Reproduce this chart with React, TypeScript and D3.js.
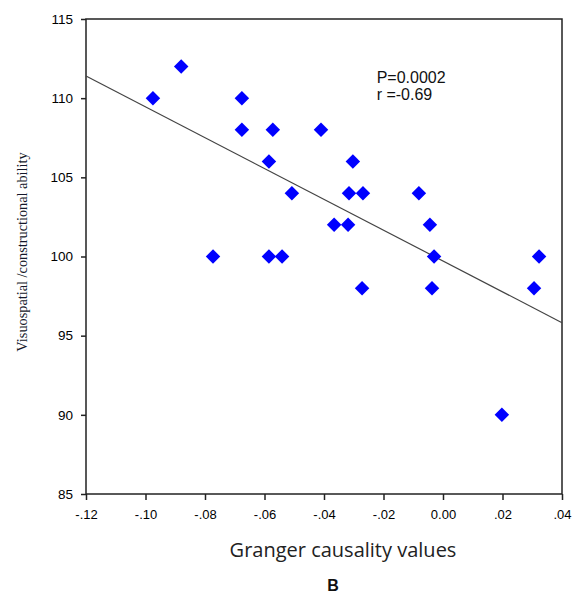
import React, { useRef, useEffect } from "react";
import * as d3 from "d3";

// Granger causality values (x) vs visuospatial/constructional ability (y)
const grangerValues = [
  -0.0975, -0.088, -0.0676, -0.0676, -0.0572, -0.0585, -0.0508, -0.0773,
  -0.0585, -0.0541, -0.041, -0.0303, -0.0316, -0.0269, -0.0366, -0.0319,
  -0.0272, -0.0081, -0.0044, -0.003, -0.0037, 0.0198, 0.0323, 0.0306,
];
const abilityScores = [
  110, 112, 110, 108, 108, 106, 104, 100,
  100, 100, 108, 106, 104, 104, 102, 102,
  98, 104, 102, 100, 98, 90, 100, 98,
];

const xTicks = [-0.12, -0.1, -0.08, -0.06, -0.04, -0.02, 0, 0.02, 0.04];
const xTickLabels = ["-.12", "-.10", "-.08", "-.06", "-.04", "-.02", "0.00", ".02", ".04"];
const yTicks = [85, 90, 95, 100, 105, 110, 115];

// fitted regression line, read at the two ends of the x range
const fitLine = [
  { x: -0.12, y: 111.4 },
  { x: 0.04, y: 95.82 },
];

const statsText = ["P=0.0002", "r =-0.69"];

const App = () => {
  const svgRef = useRef<SVGSVGElement>(null);

  useEffect(() => {
    const width = 572;
    const height = 593;
    const margin = { top: 19, right: 10, bottom: 99, left: 86 };

    const svg = d3.select(svgRef.current);
    svg.selectAll("*").remove();

    const xScale = d3
      .scaleLinear()
      .domain([-0.12, 0.04])
      .range([margin.left, width - margin.right]);

    const yScale = d3
      .scaleLinear()
      .domain([85, 115])
      .range([height - margin.bottom, margin.top]);

    const data = grangerValues.map((x, i) => ({ x, y: abilityScores[i] }));

    // frame
    svg
      .append("rect")
      .attr("x", xScale(-0.12))
      .attr("y", yScale(115))
      .attr("width", xScale(0.04) - xScale(-0.12))
      .attr("height", yScale(85) - yScale(115))
      .attr("fill", "none")
      .attr("stroke", "#222")
      .attr("stroke-width", 1.5);

    // X axis
    svg
      .append("g")
      .attr("transform", `translate(0,${yScale(85)})`)
      .call(
        d3
          .axisBottom(xScale)
          .tickValues(xTicks)
          .tickSize(6)
          .tickPadding(10)
          .tickFormat((d, i) => xTickLabels[i])
      )
      .call((g) => g.select(".domain").remove())
      .call((g) => g.selectAll("line").attr("stroke", "#222").attr("stroke-width", 1.5))
      .call((g) =>
        g
          .selectAll("text")
          .attr("fill", "#000")
          .style("font-family", "Arial, 'Liberation Sans', sans-serif")
          .style("font-size", "13px")
      );

    // Y axis
    svg
      .append("g")
      .attr("transform", `translate(${xScale(-0.12)},0)`)
      .call(d3.axisLeft(yScale).tickValues(yTicks).tickSize(5).tickPadding(8))
      .call((g) => g.select(".domain").remove())
      .call((g) => g.selectAll("line").attr("stroke", "#222").attr("stroke-width", 1.5))
      .call((g) =>
        g
          .selectAll("text")
          .attr("fill", "#000")
          .style("font-family", "Arial, 'Liberation Sans', sans-serif")
          .style("font-size", "13.5px")
      );

    // regression line
    const line = d3
      .line<{ x: number; y: number }>()
      .x((d) => xScale(d.x))
      .y((d) => yScale(d.y));

    svg
      .append("path")
      .datum(fitLine)
      .attr("fill", "none")
      .attr("stroke", "#444")
      .attr("stroke-width", 1.2)
      .attr("d", line);

    // diamonds
    const diamond = d3.symbol().type(d3.symbolSquare).size(105);
    svg
      .append("g")
      .selectAll("path")
      .data(data)
      .join("path")
      .attr("d", diamond)
      .attr("transform", (d) => `translate(${xScale(d.x)},${yScale(d.y)}) rotate(45)`)
      .attr("fill", "#0000ff");

    // stats text
    svg
      .append("g")
      .selectAll("text")
      .data(statsText)
      .join("text")
      .attr("x", xScale(-0.0223))
      .attr("y", (d, i) => 83 + i * 16.5)
      .attr("fill", "#111")
      .style("font-family", "Arial, 'Liberation Sans', sans-serif")
      .style("font-size", "16px")
      .text((d) => d);

    // axis labels
    svg
      .append("text")
      .attr("transform", `translate(27,252) rotate(-90)`)
      .attr("text-anchor", "middle")
      .attr("fill", "#14172a")
      .style("font-family", "'Liberation Serif', 'Times New Roman', serif")
      .style("font-size", "14.3px")
      .text("Visuospatial /constructional ability");

    svg
      .append("text")
      .attr("x", 343)
      .attr("y", 557)
      .attr("text-anchor", "middle")
      .attr("fill", "#222")
      .style("font-family", "'Open Sans', 'Noto Sans', sans-serif")
      .style("font-size", "20px")
      .text("Granger causality values");

    svg
      .append("text")
      .attr("x", 333)
      .attr("y", 591)
      .attr("text-anchor", "middle")
      .attr("fill", "#111")
      .style("font-family", "Arial, 'Liberation Sans', sans-serif")
      .style("font-weight", "bold")
      .style("font-size", "16px")
      .text("B");
  }, []);

  return (
    <div style={{ position: "absolute", left: 0, top: 0, background: "#fff" }}>
      <svg ref={svgRef} width={572} height={593}></svg>
    </div>
  );
};

export default App;
